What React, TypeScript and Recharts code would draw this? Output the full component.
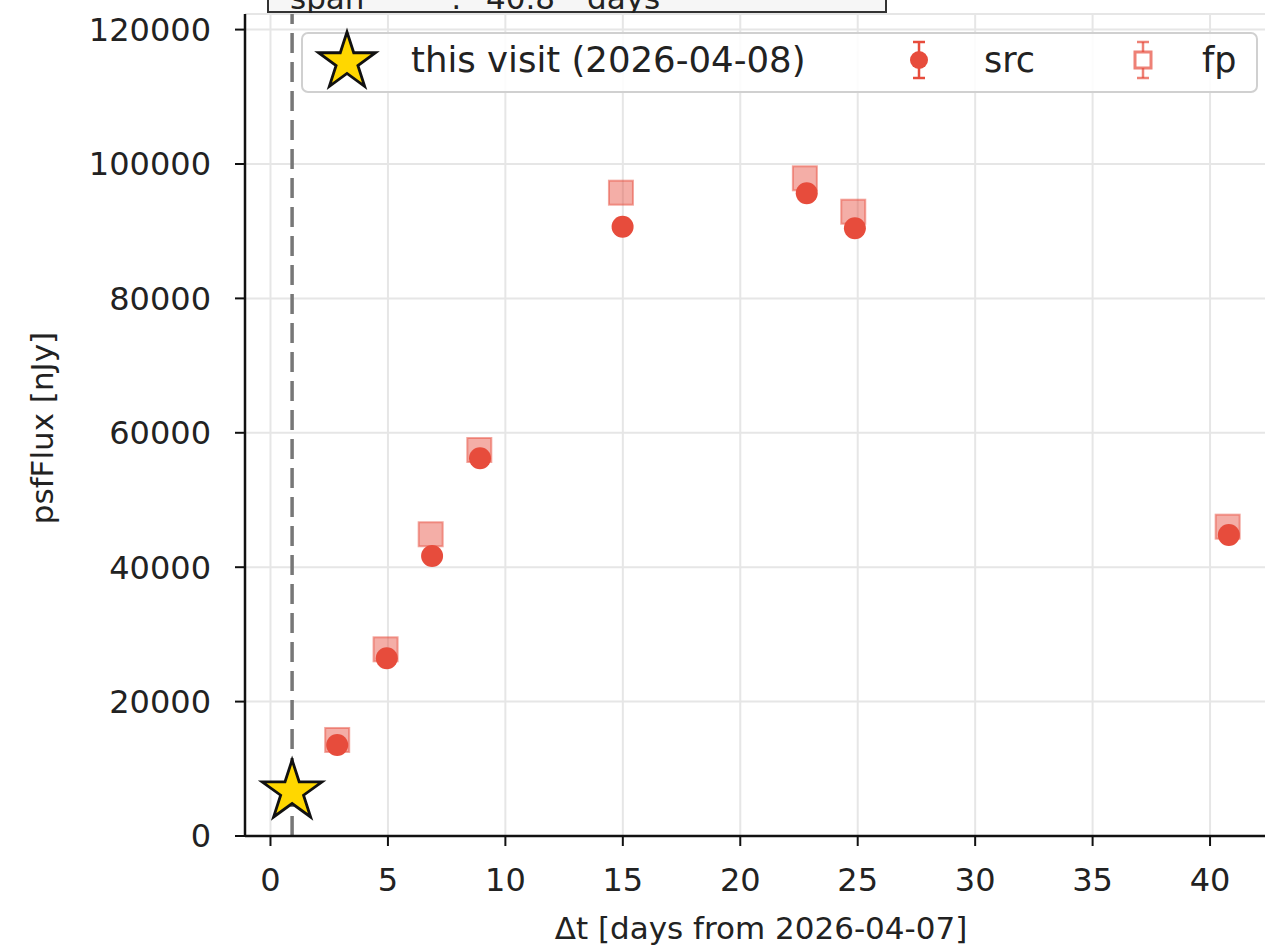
import React from 'react';
import { ComposedChart, Scatter, XAxis, YAxis, CartesianGrid, ReferenceLine, Legend } from 'recharts';

// ---- data ----
const srcDays = [2.84, 4.95, 6.88, 8.92, 14.99, 22.83, 24.88, 40.8];
const srcFlux = [13540, 26440, 41670, 56200, 90670, 95640, 90430, 44790];
const fpDays = [2.84, 4.9, 6.82, 8.89, 14.92, 22.75, 24.81, 40.75];
const fpFlux = [14290, 27780, 44900, 57440, 95730, 97870, 92900, 46030];
const visitDays = [0.92];
const visitFlux = [6620];
const xTicks = [0, 5, 10, 15, 20, 25, 30, 35, 40];
const yTicks = [0, 20000, 40000, 60000, 80000, 100000, 120000];
const xDomain = [-1.085, 42.68];
const yDomain = [0, 122320];

const visitLabel = 'this visit (2026-04-08)';
const srcLabel = 'src';
const fpLabel = 'fp';
const xLabel = 'Δt [days from 2026-04-07]';
const yLabel = 'psfFlux [nJy]';
const spanParts = ['span', ':', '40.8', 'days'];

const srcData = srcDays.map((x, i) => ({ x, y: srcFlux[i] }));
const fpData = fpDays.map((x, i) => ({ x, y: fpFlux[i] }));
const visitData = visitDays.map((x, i) => ({ x, y: visitFlux[i] }));

const RED = '#e74c3c';
const FONT = '"DejaVu Sans", sans-serif';
const TXT = '#222';

function starPath(cx: number, cy: number, R: number) {
  const r = R * 0.381966;
  const pts: string[] = [];
  for (let i = 0; i < 10; i++) {
    const a = (-90 + i * 36) * Math.PI / 180;
    const rad = i % 2 === 0 ? R : r;
    pts.push(`${cx + rad * Math.cos(a)},${cy + rad * Math.sin(a)}`);
  }
  return pts.join(' ');
}

const StarShape = (props: any) => {
  const { cx, cy } = props;
  if (cx == null || cy == null) return null;
  return <polygon points={starPath(cx, cy, 31.5)} fill="#FFD700" stroke="#111" strokeWidth={2.8} strokeLinejoin="miter" />;
};

const CircleShape = (props: any) => {
  const { cx, cy } = props;
  if (cx == null || cy == null) return null;
  return <circle cx={cx} cy={cy} r={11} fill={RED} />;
};

const SquareShape = (props: any) => {
  const { cx, cy } = props;
  if (cx == null || cy == null) return null;
  const s = 24;
  return (
    <rect x={cx - s / 2} y={cy - s / 2} width={s} height={s} fill={RED} fillOpacity={0.45} stroke={RED} strokeOpacity={0.5} strokeWidth={2} />
  );
};

const LegendBox = () => (
  <svg width={958} height={62} style={{ display: 'block', overflow: 'visible' }}>
    <rect x={1} y={1} width={955} height={59} rx={6} fill="#fff" fillOpacity={0.85} stroke="#d0d0d0" strokeWidth={2} />
    <polygon points={starPath(46, 30, 30)} fill="#FFD700" stroke="#111" strokeWidth={2.8} />
    <text x={110} y={40} fontSize={35.5} fontFamily={FONT} fill={TXT}>{visitLabel}</text>
    <g stroke={RED}>
      <line x1={618} x2={618} y1={10} y2={46} strokeWidth={2.5} />
      <line x1={612} x2={624} y1={10} y2={10} strokeWidth={2.5} />
      <line x1={612} x2={624} y1={46} y2={46} strokeWidth={2.5} />
      <circle cx={618} cy={28} r={9} fill={RED} stroke="none" />
    </g>
    <text x={683} y={40} fontSize={35} fontFamily={FONT} fill={TXT}>{srcLabel}</text>
    <g stroke={RED} strokeOpacity={0.7}>
      <line x1={842} x2={842} y1={10} y2={46} strokeWidth={2.5} />
      <line x1={836} x2={848} y1={10} y2={10} strokeWidth={2.5} />
      <line x1={836} x2={848} y1={46} y2={46} strokeWidth={2.5} />
      <rect x={834} y={20} width={16} height={16} fill="#fff" strokeWidth={3} />
    </g>
    <text x={901} y={40} fontSize={35} fontFamily={FONT} fill={TXT}>{fpLabel}</text>
  </svg>
);

const XLabel = (props: any) => {
  const vb = props.viewBox || {};
  return (
    <text x={vb.x + vb.width / 2 + 2} y={939} textAnchor="middle" fontSize={31} fontFamily={FONT} fill={TXT}>
      {xLabel}
    </text>
  );
};

const YLabel = (props: any) => {
  const vb = props.viewBox || {};
  const cy = vb.y + vb.height / 2 + 3;
  return (
    <text x={42} y={cy} transform={`rotate(-90 42 ${cy})`} textAnchor="middle" dominantBaseline="central" fontSize={31} fontFamily={FONT} fill={TXT}>
      {yLabel}
    </text>
  );
};

export default function App() {
  const tickStyle = { fontSize: 32, fill: TXT, fontFamily: FONT };
  return (
    <div style={{ position: 'absolute', left: 0, top: 0, width: 1265, height: 948, overflow: 'hidden', background: '#fff' }}>
      <ComposedChart width={1280} height={948} margin={{ top: 14, right: 7, bottom: 0, left: 0 }}>
        <CartesianGrid stroke="#e6e6e6" strokeWidth={2} />
        <XAxis
          type="number"
          dataKey="x"
          domain={xDomain}
          ticks={xTicks}
          interval={0}
          allowDataOverflow
          height={112}
          tickSize={10}
          tickMargin={22}
          axisLine={{ stroke: '#111', strokeWidth: 2.5 }}
          tickLine={{ stroke: '#111', strokeWidth: 2 }}
          tick={tickStyle}
          label={<XLabel />}
        />
        <XAxis
          xAxisId="top"
          orientation="top"
          type="number"
          dataKey="x"
          domain={xDomain}
          allowDataOverflow
          height={0}
          tick={false}
          tickLine={false}
          axisLine={{ stroke: '#111', strokeWidth: 2.5 }}
        />
        <YAxis
          type="number"
          dataKey="y"
          domain={yDomain}
          ticks={yTicks}
          interval={0}
          allowDataOverflow
          width={245}
          tickSize={10}
          tickMargin={24}
          axisLine={{ stroke: '#111', strokeWidth: 2.5 }}
          tickLine={{ stroke: '#111', strokeWidth: 2 }}
          tick={tickStyle}
          label={<YLabel />}
        />
        <ReferenceLine x={visitDays[0]} stroke="#777" strokeWidth={3.5} strokeDasharray="20 9" />
        <Scatter name={fpLabel} data={fpData} shape={<SquareShape />} isAnimationActive={false} />
        <Scatter name={srcLabel} data={srcData} shape={<CircleShape />} isAnimationActive={false} />
        <Scatter name={visitLabel} data={visitData} shape={<StarShape />} isAnimationActive={false} />
        <Legend
          layout="horizontal"
          verticalAlign="middle"
          align="center"
          content={() => <LegendBox />}
          wrapperStyle={{ left: 301, top: 32, width: 958, height: 62 }}
        />
      </ComposedChart>
      <svg width={1265} height={13} style={{ position: 'absolute', left: 0, top: 0 }}>
        <rect x={268} y={-30} width={618} height={42} fill="#f6f6f6" stroke="#333" strokeWidth={2} />
        <text x={290} y={9} fontSize={31} fontFamily={FONT} fill={TXT}>{spanParts[0]}</text>
        <text x={451} y={9} fontSize={31} fontFamily={FONT} fill={TXT}>{spanParts[1]}</text>
        <text x={486} y={9} fontSize={31} fontFamily={FONT} fill={TXT}>{spanParts[2]}</text>
        <text x={587} y={9} fontSize={31} fontFamily={FONT} fill={TXT}>{spanParts[3]}</text>
      </svg>
    </div>
  );
}
